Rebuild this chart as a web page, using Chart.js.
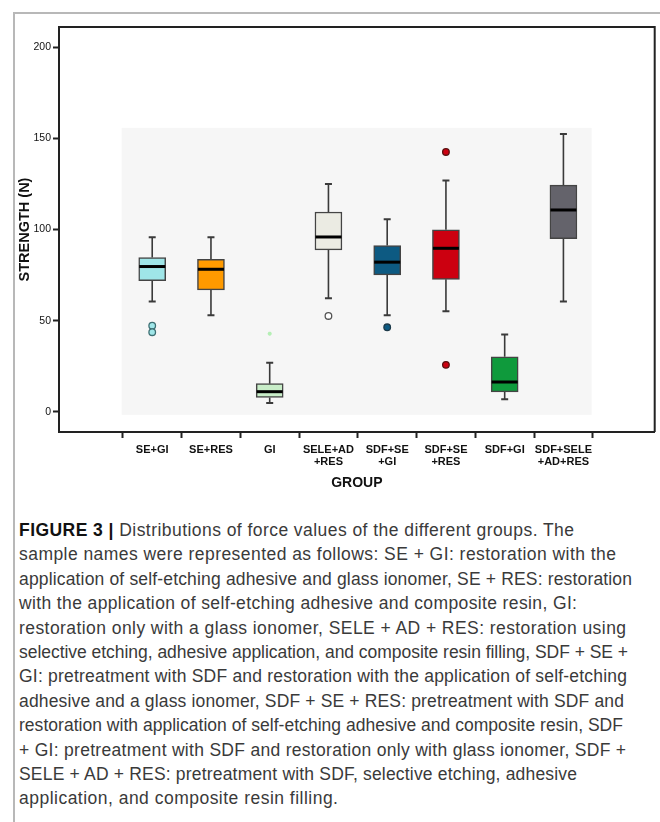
<!DOCTYPE html>
<html>
<head>
<meta charset="utf-8">
<script src="https://cdn.jsdelivr.net/npm/chart.js@4/dist/chart.umd.min.js"></script>
<style>
  body { margin: 0; background: #fff; }
  #wrap { position: relative; width: 660px; height: 822px; overflow: hidden; }
  #frame { position: absolute; left: 13px; top: 12px; width: 647px; height: 810px;
           border-left: 2px solid #b8b8b8; border-top: 2px solid #b8b8b8; }
  #chart { position: absolute; left: 0; top: 0; }
  #caption { position: absolute; left: 19px; top: 518px; font-family: "Liberation Sans", Arial, sans-serif;
             font-size: 17.5px; line-height: 24.4px; color: #3a3a3a; white-space: nowrap; }
  #caption span { display: inline-block; }
  #caption b { color: #111; }
</style>
</head>
<body>
<div id="wrap">
  <div id="frame"></div>
  <canvas id="chart" width="660" height="500"></canvas>
  <div id="caption">
    <span data-end="574"><b>FIGURE 3 |</b> Distributions of force values of the different groups. The</span><br>
    <span data-end="616">sample names were represented as follows: SE + GI: restoration with the</span><br>
    <span data-end="632">application of self-etching adhesive and glass ionomer, SE + RES: restoration</span><br>
    <span data-end="577">with the application of self-etching adhesive and composite resin, GI:</span><br>
    <span data-end="626">restoration only with a glass ionomer, SELE + AD + RES: restoration using</span><br>
    <span data-end="628">selective etching, adhesive application, and composite resin filling, SDF + SE +</span><br>
    <span data-end="627">GI: pretreatment with SDF and restoration with the application of self-etching</span><br>
    <span data-end="624">adhesive and a glass ionomer, SDF + SE + RES: pretreatment with SDF and</span><br>
    <span data-end="623">restoration with application of self-etching adhesive and composite resin, SDF</span><br>
    <span data-end="626">+ GI: pretreatment with SDF and restoration only with glass ionomer, SDF +</span><br>
    <span data-end="577">SELE + AD + RES: pretreatment with SDF, selective etching, adhesive</span><br>
    <span data-end="338">application, and composite resin filling.</span>
  </div>
</div>
<script>
const groups = ['SE+GI', 'SE+RES', 'GI', 'SELE+AD+RES', 'SDF+SE+GI', 'SDF+SE+RES', 'SDF+GI', 'SDF+SELE+AD+RES'];
const tickLabels = [['SE+GI'], ['SE+RES'], ['GI'], ['SELE+AD', '+RES'], ['SDF+SE', '+GI'], ['SDF+SE', '+RES'], ['SDF+GI'], ['SDF+SELE', '+AD+RES']];
const mins    = [60.5, 53.0,  4.9,  62.3,  53.0,  55.2,  7.0,  60.5];
const q1s     = [72.0, 66.9,  7.9,  88.8,  75.1,  72.7, 11.0,  95.0];
const medians = [79.7, 78.2, 11.1,  95.9,  82.1,  89.7, 16.4, 110.7];
const q3s     = [84.6, 83.7, 15.5, 109.6,  91.2,  99.8, 30.2, 124.3];
const maxs    = [95.8, 95.8, 27.0, 125.0, 105.6, 126.8, 42.4, 152.4];
const outlierGroup  = [0, 0, 2, 3, 4, 5, 5];
const outlierValues = [47.3, 43.7, 42.9, 52.6, 46.4, 142.5, 25.8];
const yTicks = [0, 50, 100, 150, 200];

const boxColors = ['#9fe6e8', '#ff9a00', '#c8edc8', '#ebebe3', '#0d5a82', '#cc0010', '#0f9a3c', '#64636b'];
const outlierFill   = ['#9fe6e8', '#9fe6e8', '#9be89b', '#ffffff', '#0d5a82', '#cc0010', '#cc0010'];
const outlierBorder = ['#3d6f73', '#3d6f73', '#b5efb5', '#555555', '#1d3a4a', '#5a1010', '#5a1010'];
const outlierStyle  = ['circle', 'circle', 'star', 'circle', 'circle', 'circle', 'circle'];
const outlierRadius = [3.3, 3.3, 2, 3.3, 3.3, 3.3, 3.3];

// stretch/squeeze caption lines so they wrap like the printed figure
document.querySelectorAll('#caption span').forEach(function(el) {
  const target = +el.dataset.end - 19;
  const chars = el.textContent.length - 1;
  const w = el.getBoundingClientRect().width;
  el.style.letterSpacing = ((target - w) / chars).toFixed(3) + 'px';
});

const boxExtras = {
  id: 'boxExtras',
  beforeDatasetsDraw(chart) {
    const {ctx, scales: {x, y}} = chart;
    ctx.save();
    // light panel behind the boxes
    const l = x.getPixelForValue(-0.52), r = x.getPixelForValue(7.48);
    const t = y.getPixelForValue(155.7), b = y.getPixelForValue(-1.6);
    ctx.fillStyle = '#f6f6f6';
    ctx.fillRect(l, t, r - l, b - t);
    ctx.strokeStyle = '#3a3a3a';
    groups.forEach(function(g, i) {
      const cx = x.getPixelForValue(i);
      ctx.lineWidth = 1.6;
      ctx.beginPath();
      ctx.moveTo(cx, y.getPixelForValue(maxs[i]));
      ctx.lineTo(cx, y.getPixelForValue(q3s[i]));
      ctx.moveTo(cx, y.getPixelForValue(q1s[i]));
      ctx.lineTo(cx, y.getPixelForValue(mins[i]));
      ctx.stroke();
      ctx.lineWidth = 2;
      ctx.beginPath();
      ctx.moveTo(cx - 3.5, y.getPixelForValue(maxs[i]));
      ctx.lineTo(cx + 3.5, y.getPixelForValue(maxs[i]));
      ctx.moveTo(cx - 3.5, y.getPixelForValue(mins[i]));
      ctx.lineTo(cx + 3.5, y.getPixelForValue(mins[i]));
      ctx.stroke();
    });
    ctx.restore();
  },
  afterDatasetsDraw(chart) {
    const {ctx, scales: {x, y}} = chart;
    ctx.save();
    ctx.strokeStyle = '#000';
    ctx.lineWidth = 3;
    groups.forEach(function(g, i) {
      const cx = x.getPixelForValue(i);
      const my = y.getPixelForValue(medians[i]);
      ctx.beginPath();
      ctx.moveTo(cx - 13, my);
      ctx.lineTo(cx + 13, my);
      ctx.stroke();
    });
    ctx.restore();
  },
  afterDraw(chart) {
    const {ctx, chartArea: a} = chart;
    ctx.save();
    ctx.strokeStyle = '#222';
    ctx.lineWidth = 2;
    ctx.beginPath();
    ctx.moveTo(a.left, a.top);
    ctx.lineTo(a.right, a.top);
    ctx.lineTo(a.right, a.bottom);
    ctx.stroke();
    ctx.restore();
  }
};

const ctx = document.getElementById('chart').getContext('2d');
const chart = new Chart(ctx, {
  type: 'bar',
  data: {
    datasets: [{
      type: 'scatter',
      data: outlierGroup.map((g, k) => ({x: g, y: outlierValues[k]})),
      pointBackgroundColor: outlierFill,
      pointBorderColor: outlierBorder,
      pointStyle: outlierStyle,
      pointRadius: outlierRadius,
      pointBorderWidth: 1.3,
      order: 0
    }, {
      data: groups.map((g, i) => ({x: i, y: [q1s[i], q3s[i]]})),
      backgroundColor: boxColors,
      borderColor: '#444',
      borderWidth: 1.5,
      borderSkipped: false,
      barThickness: 27,
      grouped: false,
      order: 1
    }]
  },
  options: {
    responsive: false,
    animation: false,
    devicePixelRatio: 1,
    layout: { padding: { top: 27, right: 4, left: 0, bottom: 0 } },
    plugins: { legend: { display: false }, tooltip: { enabled: false } },
    scales: {
      x: {
        type: 'linear',
        min: -0.953,
        max: 7.92,
        afterBuildTicks: function(s) { s.ticks = groups.map((g, i) => ({value: i})); },
        afterFit: function(s) { s.height = 68; },
        grid: { drawOnChartArea: false, drawTicks: true, tickLength: 6, tickColor: '#222', tickWidth: 2 },
        border: { display: true, color: '#222', width: 2 },
        ticks: {
          autoSkip: false,
          maxRotation: 0,
          padding: 6,
          color: '#111',
          font: { family: 'Liberation Sans', size: 11, weight: 'bold', lineHeight: 1.1 },
          callback: function(v) { return tickLabels[v]; }
        },
        title: {
          display: true,
          text: 'GROUP',
          color: '#111',
          font: { family: 'Liberation Sans', size: 14, weight: 'bold' },
          padding: { top: 0, bottom: 8 }
        }
      },
      y: {
        min: -11,
        max: 211,
        afterBuildTicks: function(s) { s.ticks = yTicks.map(v => ({value: v})); },
        afterFit: function(s) { s.width = 59; },
        grid: { drawOnChartArea: false, drawTicks: true, tickLength: 6, tickColor: '#222', tickWidth: 2 },
        border: { display: true, color: '#222', width: 2 },
        ticks: {
          padding: 2,
          color: '#111',
          font: { family: 'Liberation Sans', size: 10.5 }
        },
        title: {
          display: true,
          text: 'STRENGTH (N)',
          color: '#111',
          font: { family: 'Liberation Sans', size: 14.5, weight: 'bold' },
          padding: { top: 16, bottom: 0 }
        }
      }
    }
  },
  plugins: [boxExtras]
});
</script>
</body>
</html>
